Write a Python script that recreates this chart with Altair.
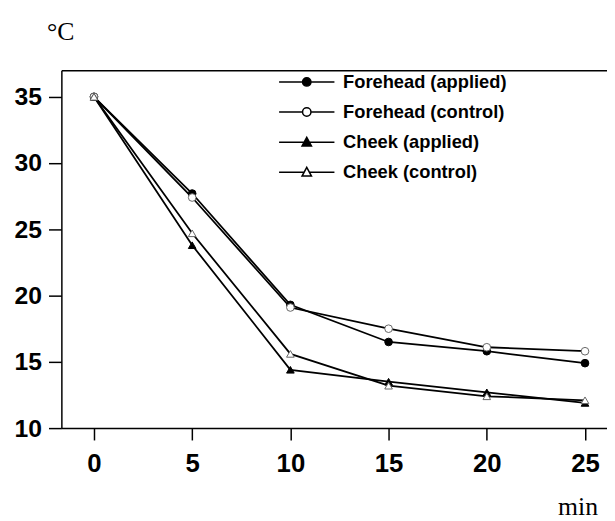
import altair as alt
import pandas as pd

minutes = [0, 5, 10, 15, 20, 25]
series_names = ["Forehead (applied)", "Forehead (control)", "Cheek (applied)", "Cheek (control)"]
forehead_applied = [35, 27.7, 19.3, 16.5, 15.8, 14.9]
forehead_control = [35, 27.4, 19.1, 17.5, 16.1, 15.8]
cheek_applied = [35, 23.8, 14.4, 13.5, 12.7, 11.9]
cheek_control = [35, 24.7, 15.6, 13.2, 12.4, 12.1]
y_ticks = [10, 15, 20, 25, 30, 35]

rows = []
for name, vals in zip(series_names, [forehead_applied, forehead_control, cheek_applied, cheek_control]):
    for t, v in zip(minutes, vals):
        rows.append({"t": t, "temp": v, "series": name})
df = pd.DataFrame(rows)

SANS = "Liberation Sans, Arial, sans-serif"
SERIF = "Liberation Serif, Times New Roman, serif"

x_scale = alt.Scale(domain=[-1.66, 26.12], nice=False, zero=False)
y_scale = alt.Scale(domain=[10, 37], nice=False, zero=False)

x_axis = alt.Axis(values=minutes, title="min", grid=False, domainColor="black", domainWidth=1.5,
                  tickColor="black", tickWidth=1.5, tickSize=12, labelPadding=11,
                  labelFont=SANS, labelFontSize=26, labelFontWeight="bold", labelColor="black",
                  labelFlush=False, titleFont=SERIF, titleFontSize=26, titleFontWeight="normal",
                  titleColor="black", titleAlign="left", titleBaseline="alphabetic",
                  titleX=502, titleY=87)
y_axis = alt.Axis(values=y_ticks, title="°C", grid=False, domainColor="black", domainWidth=1.5,
                  tickColor="black", tickWidth=1.5, tickSize=13, labelPadding=7,
                  labelFont=SANS, labelFontSize=25, labelFontWeight="bold", labelColor="black",
                  titleFont=SERIF, titleFontSize=26, titleFontWeight="normal", titleColor="black",
                  titleAngle=0, titleAlign="left", titleBaseline="alphabetic",
                  titleX=-15, titleY=-31)

base = alt.Chart(df)

lines = base.mark_line(color="black", strokeWidth=1.8).encode(
    x=alt.X("t:Q", scale=x_scale, axis=x_axis),
    y=alt.Y("temp:Q", scale=y_scale, axis=y_axis),
    detail="series:N",
)

points = base.mark_point(size=60, opacity=1, strokeWidth=1).encode(
    x=alt.X("t:Q", scale=x_scale, axis=None),
    y=alt.Y("temp:Q", scale=y_scale, axis=None),
    shape=alt.Shape("series:N", scale=alt.Scale(domain=series_names,
                    range=["circle", "circle", "triangle-up", "triangle-up"]), legend=None),
    fill=alt.Fill("series:N", scale=alt.Scale(domain=series_names,
                  range=["black", "white", "black", "white"]), legend=None),
    stroke=alt.Stroke("series:N", scale=alt.Scale(domain=series_names,
                      range=["black", "#666666", "black", "#666666"]), legend=None),
)

circ = "M0.85,0A0.85,0.85,0,1,1,-0.85,0A0.85,0.85,0,1,1,0.85,0Z"
tri = "M0,-1L0.95,0.75L-0.95,0.75Z"
legend_paths = [
    "M-5.6,0L-0.85,0M0.85,0L5.6,0" + circ,
    "M-5.6,0L-0.85,0M0.85,0L5.6,0" + circ,
    "M-5.6,0L-0.54,0M0.54,0L5.6,0" + tri,
    "M-5.6,0L-0.54,0M0.54,0L5.6,0" + tri,
]

legend_cfg = alt.Legend(title=None, orient="none", legendX=239, legendY=2.5, padding=0,
                        labelFont=SANS, labelFontSize=18.5, labelFontWeight="bold",
                        labelColor="black", labelOffset=27.5, rowPadding=11.5, labelLimit=0,
                        symbolStrokeWidth=1.5)

legend_layer = base.transform_filter("datum.t < 0").mark_point(size=64, opacity=1).encode(
    x=alt.X("t:Q", scale=x_scale,
            axis=alt.Axis(orient="top", labels=False, ticks=False, domain=True,
                          domainColor="black", domainWidth=1.5, grid=False, title=None)),
    y=alt.Y("temp:Q", scale=y_scale, axis=None),
    shape=alt.Shape("series:N", scale=alt.Scale(domain=series_names, range=legend_paths), legend=legend_cfg),
    fill=alt.Fill("series:N", scale=alt.Scale(domain=series_names,
                  range=["black", "white", "black", "white"]), legend=legend_cfg),
    stroke=alt.Stroke("series:N", scale=alt.Scale(domain=series_names,
                      range=["black", "black", "black", "black"]), legend=legend_cfg),
)

chart = alt.layer(lines, points, legend_layer).resolve_scale(
    shape="independent", fill="independent", stroke="independent"
).resolve_axis(x="independent", y="independent").properties(
    width=552, height=362,
    autosize=alt.AutoSizeParams(type="none"),
    padding={"left": 54, "top": 60, "right": 0, "bottom": 93},
    background="white",
).configure_view(stroke="transparent")

chart.save("out.html", embed_options={"renderer": "svg", "actions": False})
